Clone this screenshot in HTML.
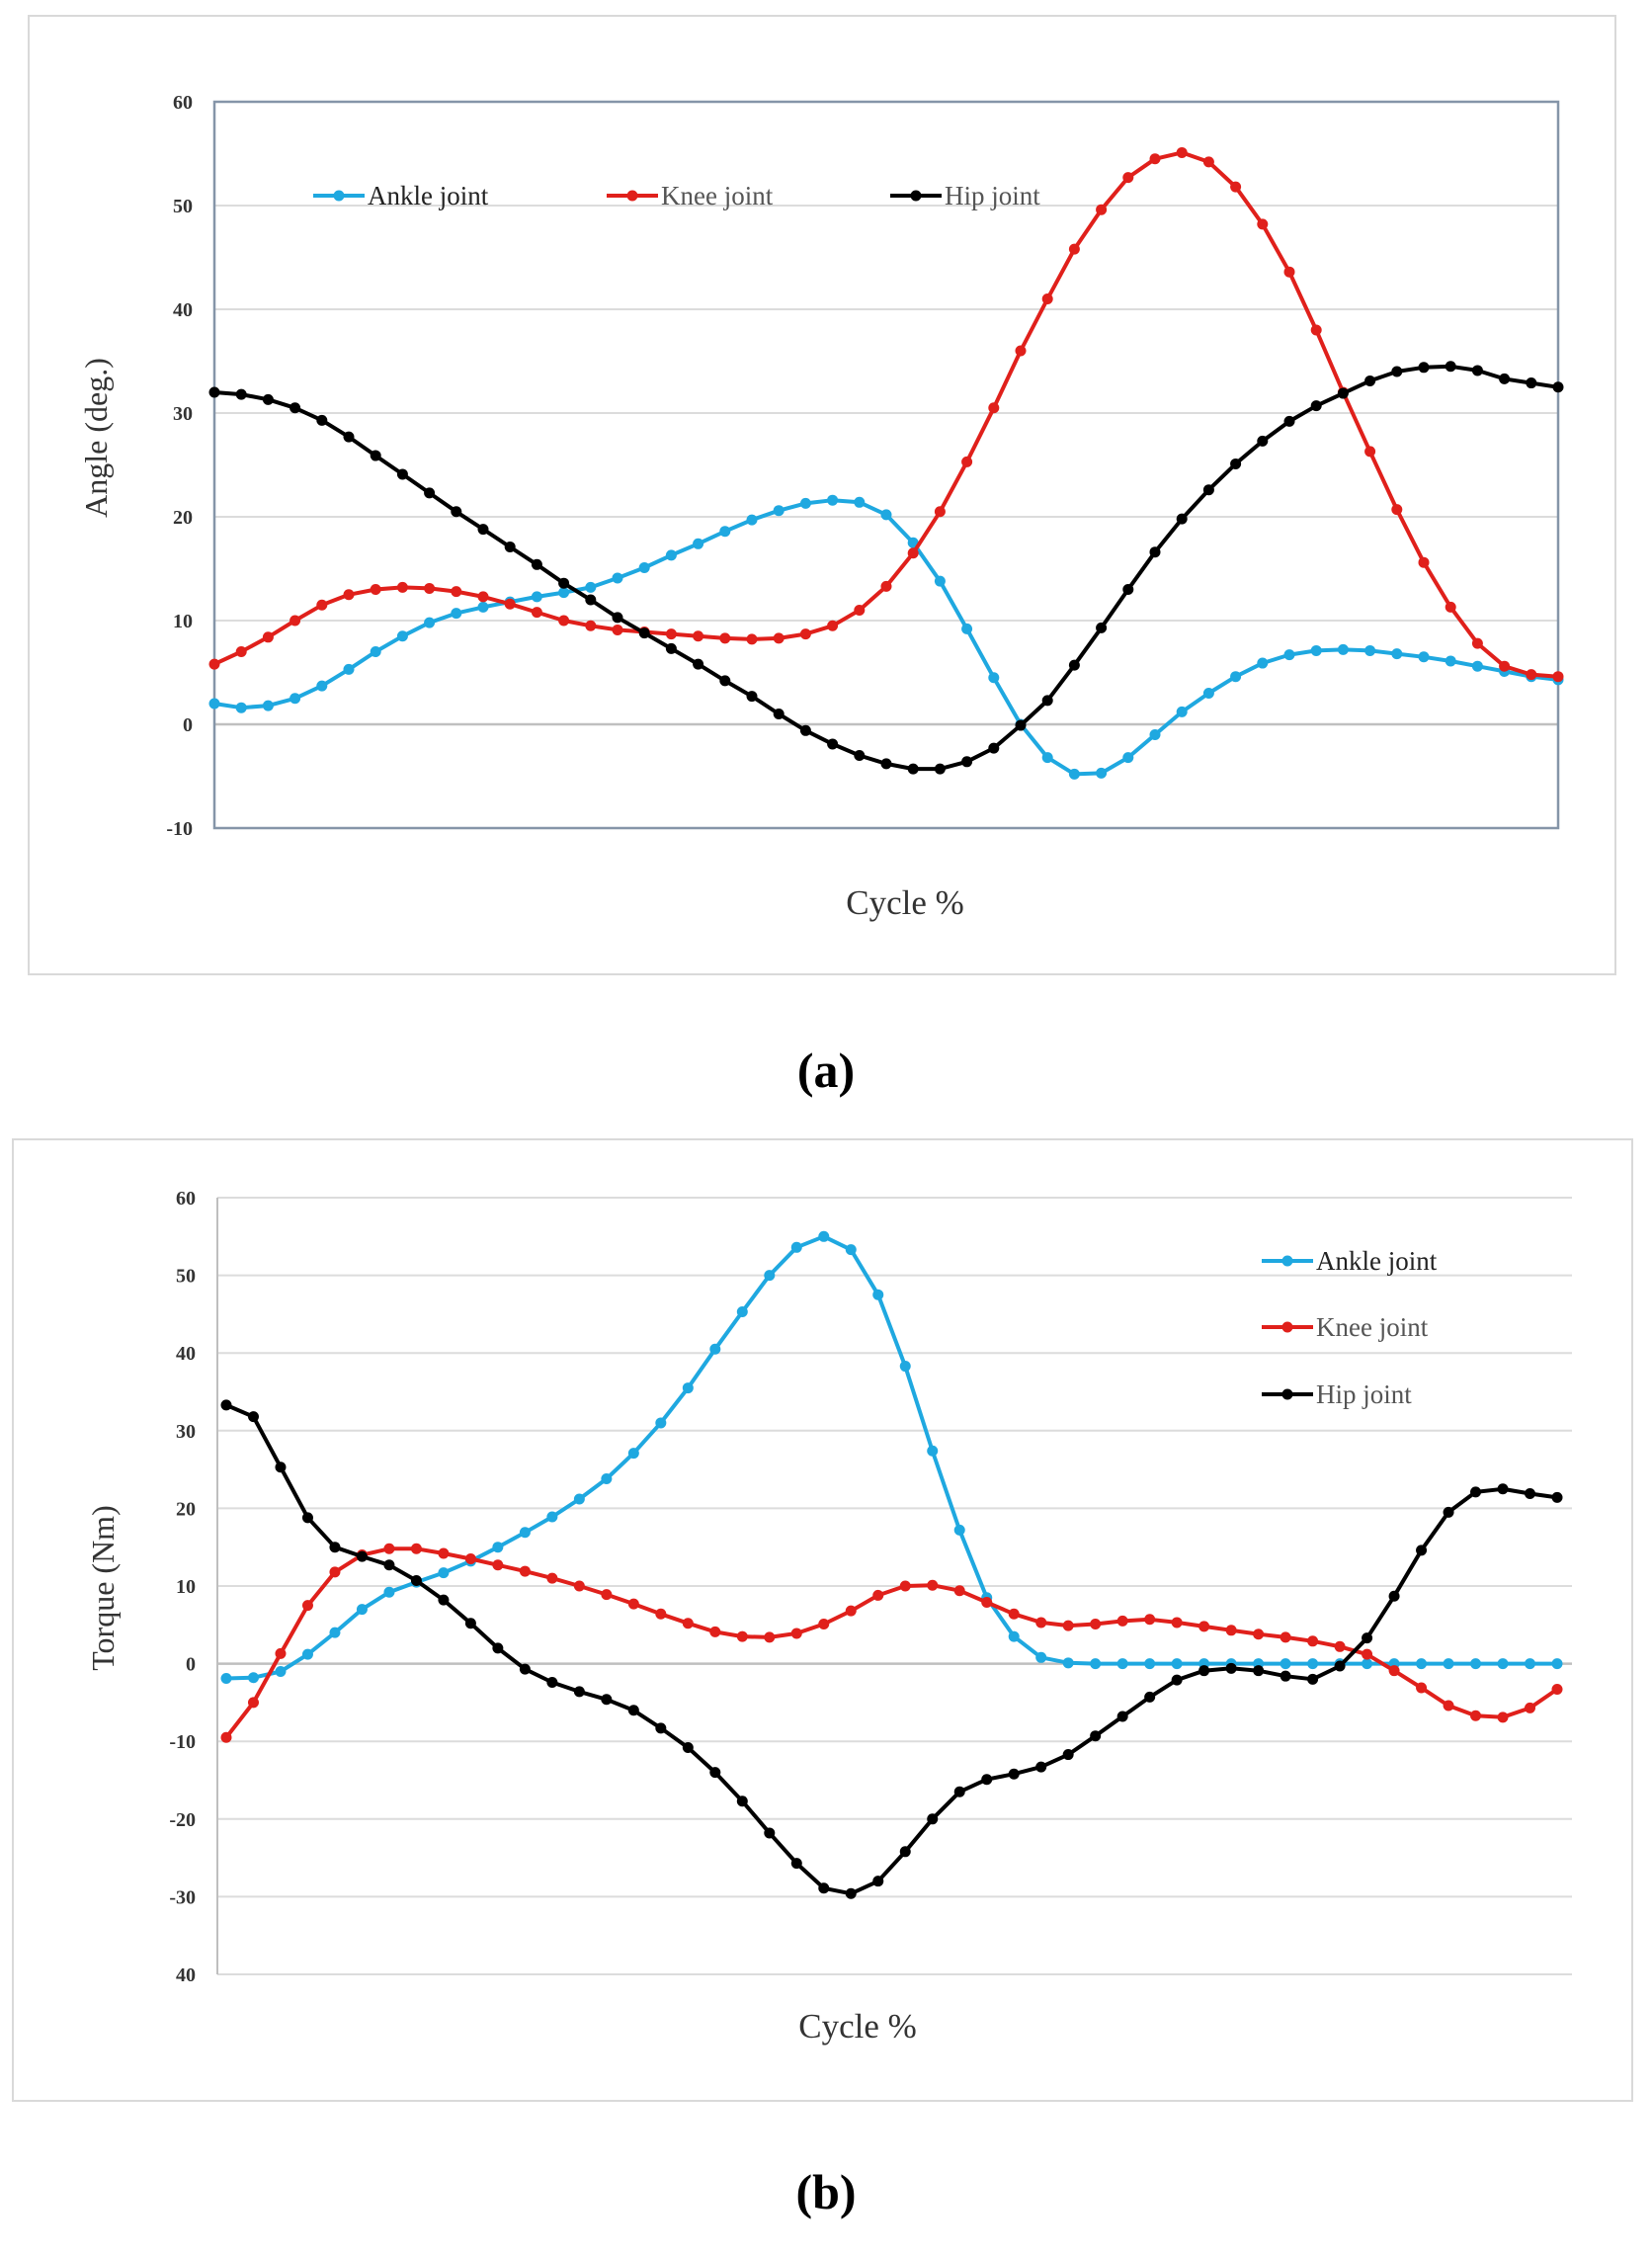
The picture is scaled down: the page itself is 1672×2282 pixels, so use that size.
<!DOCTYPE html>
<html><head><meta charset="utf-8"><style>
html,body{margin:0;padding:0;background:#fff}
svg{display:block}
text{font-family:"Liberation Serif",serif}
</style></head><body>
<svg id="s" width="1672" height="2282" viewBox="0 0 1672 2282" xmlns="http://www.w3.org/2000/svg">
<rect x="29" y="16" width="1606" height="970" fill="#fff" stroke="#d9d9d9" stroke-width="2"/>
<rect x="13" y="1153" width="1639" height="973" fill="#fff" stroke="#d9d9d9" stroke-width="2"/>
<g id="ga"></g>
<g id="gb"></g>
<text x="836" y="1100" text-anchor="middle" font-size="50" font-weight="bold">(a)</text>
<text x="836" y="2235" text-anchor="middle" font-size="50" font-weight="bold">(b)</text>
</svg>
<script>
const aTicks=[60,50,40,30,20,10,0,-10];
const aAnkle=[2,1.6,1.8,2.5,3.7,5.3,7,8.5,9.8,10.7,11.3,11.8,12.3,12.7,13.2,14.1,15.1,16.3,17.4,18.6,19.7,20.6,21.3,21.6,21.4,20.2,17.5,13.8,9.2,4.5,0,-3.2,-4.8,-4.7,-3.2,-1,1.2,3,4.6,5.9,6.7,7.1,7.2,7.1,6.8,6.5,6.1,5.6,5.1,4.6,4.3];
const aKnee=[5.8,7,8.4,10,11.5,12.5,13,13.2,13.1,12.8,12.3,11.6,10.8,10,9.5,9.1,8.9,8.7,8.5,8.3,8.2,8.3,8.7,9.5,11,13.3,16.5,20.5,25.3,30.5,36,41,45.8,49.6,52.7,54.5,55.1,54.2,51.8,48.2,43.6,38,32,26.3,20.7,15.6,11.3,7.8,5.6,4.8,4.6];
const aHip=[32,31.8,31.3,30.5,29.3,27.7,25.9,24.1,22.3,20.5,18.8,17.1,15.4,13.6,12,10.3,8.8,7.3,5.8,4.2,2.7,1,-0.6,-1.9,-3,-3.8,-4.3,-4.3,-3.6,-2.3,-0.1,2.3,5.7,9.3,13,16.6,19.8,22.6,25.1,27.3,29.2,30.7,31.9,33.1,34,34.4,34.5,34.1,33.3,32.9,32.5];
const bTicks=[60,50,40,30,20,10,0,-10,-20,-30,-40];
const bTickLabels=["60","50","40","30","20","10","0","-10","-20","-30","40"];
const bAnkle=[-1.9,-1.8,-1,1.2,4,7,9.2,10.5,11.7,13.2,15,16.9,18.9,21.2,23.8,27.1,31,35.5,40.5,45.3,50,53.6,55,53.3,47.5,38.3,27.4,17.2,8.5,3.5,0.8,0.1,0,0,0,0,0,0,0,0,0,0,0,0,0,0,0,0,0,0];
const bKnee=[-9.5,-5,1.3,7.5,11.8,14,14.8,14.8,14.2,13.5,12.7,11.9,11,10,8.9,7.7,6.4,5.2,4.1,3.5,3.4,3.9,5.1,6.8,8.8,10,10.1,9.4,7.9,6.4,5.3,4.9,5.1,5.5,5.7,5.3,4.8,4.3,3.8,3.4,2.9,2.2,1.2,-0.9,-3.1,-5.4,-6.7,-6.9,-5.7,-3.3];
const bHip=[33.3,31.8,25.3,18.8,15,13.8,12.7,10.7,8.2,5.2,2,-0.7,-2.4,-3.6,-4.6,-6,-8.3,-10.8,-14,-17.7,-21.8,-25.7,-28.9,-29.6,-28,-24.2,-20,-16.5,-14.9,-14.2,-13.3,-11.7,-9.3,-6.8,-4.3,-2.1,-0.9,-0.6,-0.9,-1.6,-2,-0.3,3.3,8.7,14.6,19.5,22.1,22.5,21.9,21.4];
const seriesNames=["Ankle joint","Knee joint","Hip joint"];
const colors=["#1fa8e0","#e0201b","#000000"];
const NS="http://www.w3.org/2000/svg";
function mk(p,tag,at,txt){const e=document.createElementNS(NS,tag);for(const k in at)e.setAttribute(k,at[k]);if(txt!==undefined)e.textContent=txt;p.appendChild(e);return e;}

function chart(g,o){
  const ys=v=>o.y0+(o.ymax-v)/(o.ymax-o.ymin)*(o.y1-o.y0);
  const xs=(i,n)=>o.px0+i/(n-1)*(o.px1-o.px0);
  o.ticks.forEach((t,k)=>{
    const gl=mk(g,'line',{x1:o.x0,x2:o.x1,y1:ys(t),y2:ys(t),stroke:t===0?'#bfbfbf':'#dcdcdc','stroke-width':t===0?2.5:2});
    
    
    const tl=mk(g,'text',{x:o.x0-22,y:ys(t)+7,'text-anchor':'end','font-size':20,'font-weight':'bold',fill:'#333'},o.labels[k]);
    
    
  });
  if(o.frame){const fr=mk(g,'rect',{x:o.x0,y:o.y0,width:o.x1-o.x0,height:o.y1-o.y0,fill:'none',stroke:'#8595a8','stroke-width':2.5});
    
    }
  else{const ax=mk(g,'line',{x1:o.x0,x2:o.x0,y1:o.y0,y2:o.y1,stroke:'#bfbfbf','stroke-width':2});
    
    }
  o.series.forEach((d,s)=>{
    const sg=mk(g,'g',{});
    
    
    const pts=d.map((v,i)=>xs(i,d.length).toFixed(1)+','+ys(v).toFixed(1)).join(' ');
    mk(sg,'polyline',{points:pts,fill:'none',stroke:colors[s],'stroke-width':4,'stroke-linejoin':'round'});
    d.forEach((v,i)=>{const c=mk(sg,'circle',{cx:xs(i,d.length),cy:ys(v),r:5.5,fill:colors[s]});
      
      });
  });
  o.legend.forEach((p,s)=>{
    const lg=mk(g,'g',{});
    
    
    mk(lg,'line',{x1:p[0],x2:p[0]+52,y1:p[1],y2:p[1],stroke:colors[s],'stroke-width':4});
    mk(lg,'circle',{cx:p[0]+26,cy:p[1],r:5.5,fill:colors[s]});
    mk(lg,'text',{x:p[0]+55,y:p[1]+9,'font-size':27,fill:s===0?'#222':'#555'},seriesNames[s]);
  });
  const yt=mk(g,'text',{x:o.yt[0],y:o.yt[1],'text-anchor':'middle','font-size':32,fill:'#333',transform:`rotate(-90 ${o.yt[0]} ${o.yt[1]})`},o.ytitle);
  
  
  const xt=mk(g,'text',{x:o.xt[0],y:o.xt[1],'text-anchor':'middle','font-size':35,fill:'#333'},'Cycle %');
  
  
}
chart(document.getElementById('ga'),{x0:217,x1:1577,y0:103,y1:838,ymax:60,ymin:-10,px0:217,px1:1577,
  ticks:aTicks,labels:aTicks.map(String),frame:true,series:[aAnkle,aKnee,aHip],
  legend:[[317,198],[614,198],[901,198]],yt:[108,443],ytitle:'Angle (deg.)',xt:[916,925]});
chart(document.getElementById('gb'),{x0:220,x1:1591,y0:1212,y1:1998,ymax:60,ymin:-40,px0:229,px1:1576,
  ticks:bTicks,labels:bTickLabels,frame:false,series:[bAnkle,bKnee,bHip],
  legend:[[1277,1276],[1277,1343],[1277,1411]],yt:[115,1607],ytitle:'Torque (Nm)',xt:[868,2062]});
</script>
</body></html>
